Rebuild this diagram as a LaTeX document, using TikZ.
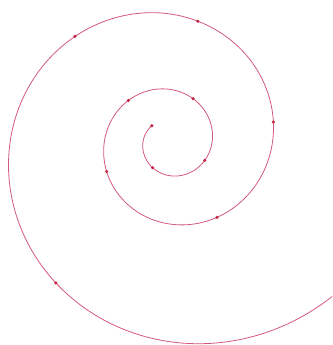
\documentclass[tikz,border=0pt]{standalone}
\usepackage{tikz}
\usetikzlibrary{calc}
\definecolor{spiralred}{HTML}{D2587A}
\definecolor{dotred}{HTML}{C42645}

\begin{document}
\begin{tikzpicture}[
    x=0.02cm, y=0.02cm,
    spiral/.style={draw=spiralred, line width=0.45pt},
    dotmark/.style={circle, fill=dotred, inner sep=0pt, minimum size=0.07cm},
]

% ================= FRAME =================
\useasboundingbox (0,0) rectangle (332,-345);
\clip (0,0) rectangle (332,-345);

% ================= SPIRAL =================
\coordinate (centre) at (170,-142);
\begin{scope}[shift={(centre)}]
    \draw[spiral] plot[domain=138:1040, samples=400, smooth] (\x:{27*exp(0.4447*(\x-180)/180)});
    \foreach \a [count=\i] in {138,236,332,422,495,565,662,731,797,852,951,1037} {
        \pgfmathsetmacro{\rr}{27*exp(0.4447*(\a-180)/180)}
        \node[dotmark] (dot\i) at (\a:\rr) {};
    }
\end{scope}

\end{tikzpicture}
\end{document}
